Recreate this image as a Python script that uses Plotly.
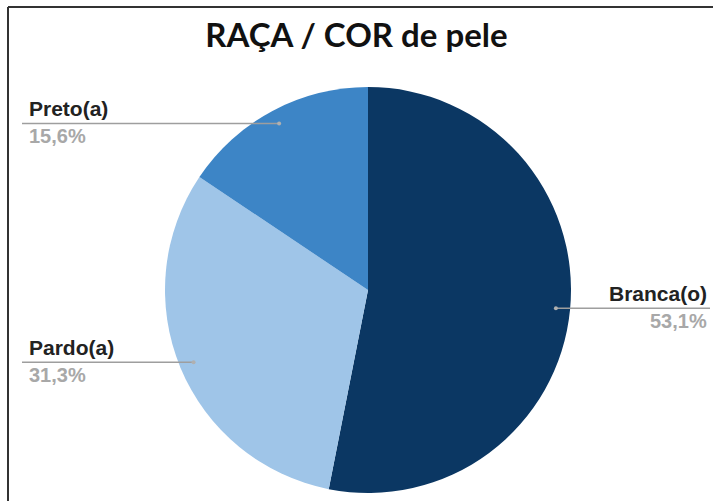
import math
import plotly.graph_objects as go

labels = ["Branca(o)", "Pardo(a)", "Preto(a)"]
percents = [53.1, 31.3, 15.6]
colors = ["#0B3763", "#9FC5E8", "#3D85C6"]

W, H = 713, 501
CX, CY, R = 368, 290, 203


def px(x, y):
    return x / W, 1 - y / H


fig = go.Figure(
    go.Pie(
        labels=labels,
        values=percents,
        sort=False,
        direction="clockwise",
        rotation=0,
        textinfo="none",
        marker={"colors": colors, "line": {"width": 0}},
        domain={"x": [(CX - R) / W, (CX + R) / W], "y": [1 - (CY + R) / H, 1 - (CY - R) / H]},
        showlegend=False,
    )
)

shapes = []
annotations = []
start = 0.0
for label, pct in zip(labels, percents):
    # leader line from a point inside the slice out to the label
    mid = (start + pct / 2) / 100 * 2 * math.pi
    start += pct
    dx = CX + 0.93 * R * math.sin(mid)
    dy = CY - 0.93 * R * math.cos(mid)
    left = math.sin(mid) < 0
    end_x = 22 if left else 710
    x0, y0 = px(dx, dy)
    x1, _ = px(end_x, dy)
    shapes.append(dict(type="line", xref="paper", yref="paper", x0=x0, y0=y0, x1=x1, y1=y0,
                       line={"color": "#9E9E9E", "width": 1.5}))
    shapes.append(dict(type="circle", xref="paper", yref="paper",
                       x0=(dx - 2) / W, x1=(dx + 2) / W, y0=1 - (dy + 2) / H, y1=1 - (dy - 2) / H,
                       fillcolor="#B0B0B0", line={"width": 0}))
    tx = (27 if left else 709) / W
    anchor = "left" if left else "right"
    annotations.append(dict(x=tx, y=y0 + 1 / H, xref="paper", yref="paper", text=f"<b>{label}</b>",
                            showarrow=False, xanchor=anchor, yanchor="bottom",
                            font={"size": 21, "color": "#222222"}))
    annotations.append(dict(x=tx, y=y0, xref="paper", yref="paper",
                            text="<b>" + f"{pct:.1f}%".replace(".", ",") + "</b>", showarrow=False,
                            xanchor=anchor, yanchor="top", font={"size": 20, "color": "#A8A8A8"}))

# frame around the chart
shapes.append(dict(type="line", xref="paper", yref="paper", x0=8 / W, x1=1, y0=1 - 7 / H, y1=1 - 7 / H,
                   line={"color": "#333333", "width": 2}))
shapes.append(dict(type="line", xref="paper", yref="paper", x0=8 / W, x1=8 / W, y0=0, y1=1 - 7 / H,
                   line={"color": "#333333", "width": 2}))

fig.update_layout(
    width=W,
    height=H,
    margin={"l": 0, "r": 0, "t": 0, "b": 0},
    paper_bgcolor="white",
    font={"family": "Liberation Sans, Arial, sans-serif"},
    title={
        "text": "<b>RAÇA / COR de pele</b>",
        "x": 0.5,
        "xanchor": "center",
        "y": 1 - 35 / H,
        "yanchor": "middle",
        "font": {"family": "Lato, Open Sans, sans-serif", "size": 33, "color": "#111111"},
    },
    shapes=shapes,
    annotations=annotations,
)

fig.write_html("out.html", config={"displayModeBar": False},
               post_script="document.body.style.margin = '0';")
